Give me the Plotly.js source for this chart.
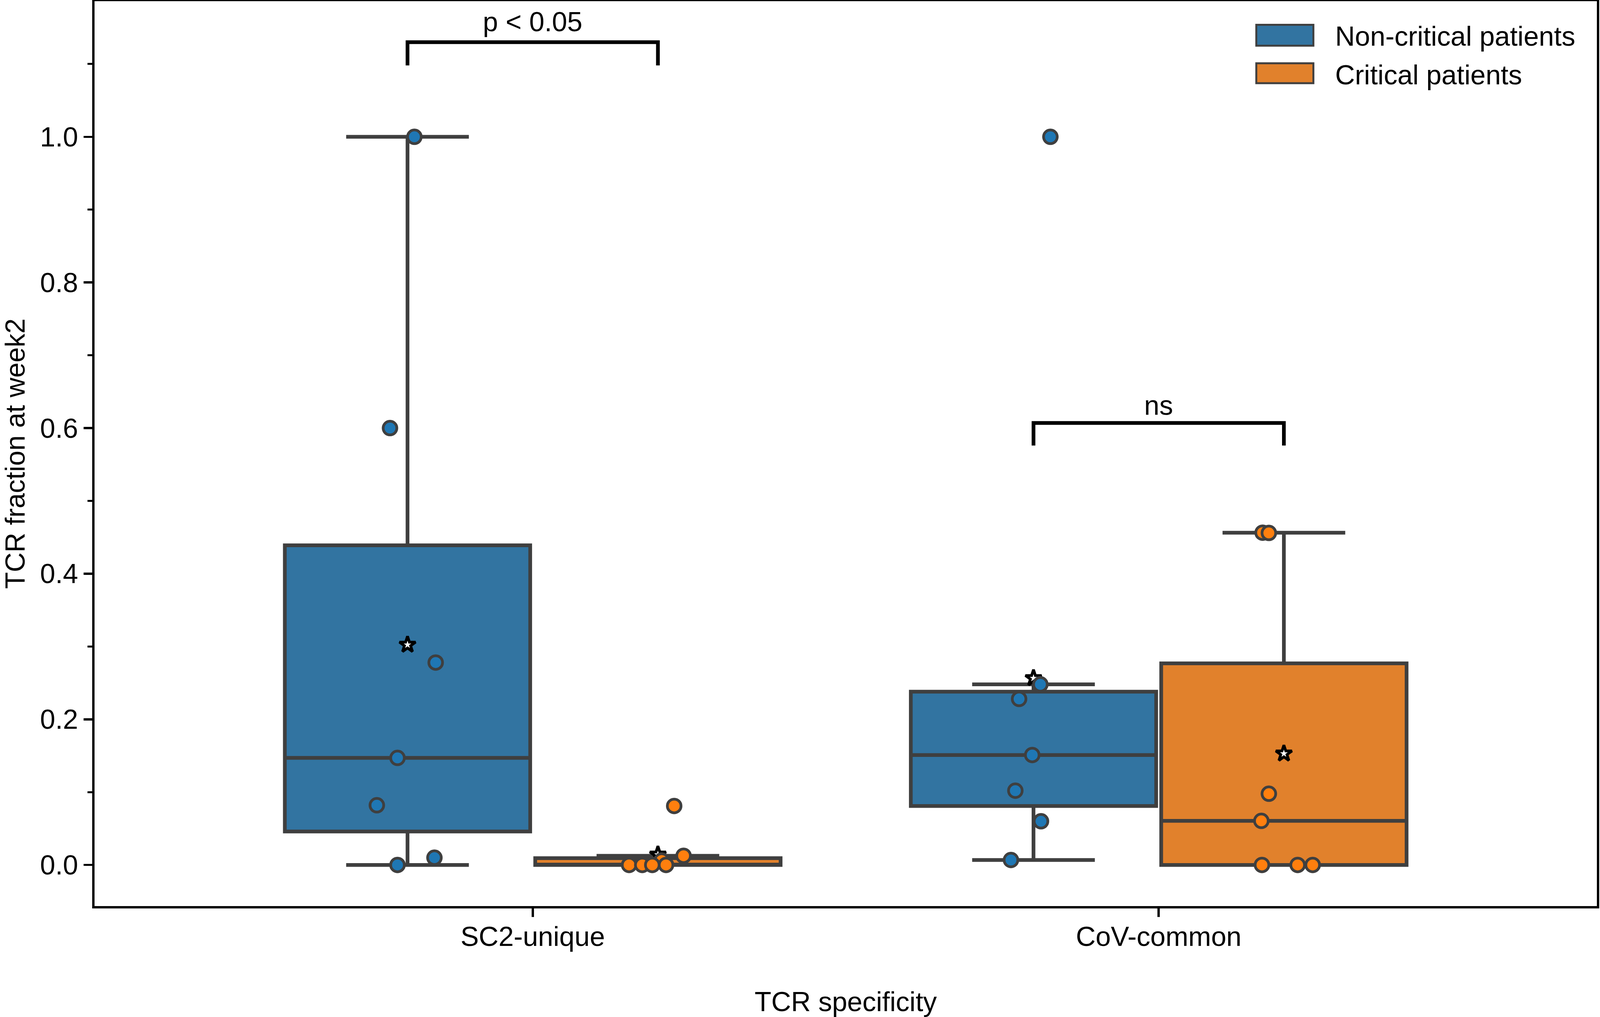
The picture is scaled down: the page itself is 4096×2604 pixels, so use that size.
<!DOCTYPE html>
<html>
<head>
<meta charset="utf-8">
<script src="https://cdn.plot.ly/plotly-3.0.1.min.js"></script>
<style>html,body{margin:0;padding:0;background:#fff;}</style>
</head>
<body>
<div id="chart" style="width:4096px;height:2604px;"></div>
<script>
// ---------------- data ----------------
const categories = ['SC2-unique', 'CoV-common'];
const groups = ['Non-critical patients', 'Critical patients'];

// TCR fraction at week2, per patient
const sc2NonCritical = [1.0, 0.600, 0.278, 0.147, 0.082, 0.010, 0.0];
const sc2Critical    = [0.081, 0.0126, 0.006, 0.0, 0.0, 0.0, 0.0];
const covNonCritical = [1.0, 0.248, 0.228, 0.151, 0.102, 0.060, 0.0068];
const covCritical    = [0.4563, 0.4560, 0.0978, 0.0605, 0.0, 0.0, 0.0];

// significance labels
const sigLabels = ['p < 0.05', 'ns'];

// ---------------- positions / styles ----------------
const hueOffset = [-0.2, 0.2];
const boxWidth = 0.392;
// horizontal strip jitter of each point (same order as the data arrays)
const jitterSc2Non  = [0.011, -0.028, 0.045, -0.016, -0.049, 0.043, -0.016];
const jitterSc2Crit = [0.026, 0.041, 0.006, -0.046, -0.025, -0.009, 0.013];
const jitterCovNon  = [0.027, 0.011, -0.023, -0.002, -0.029, 0.012, -0.036];
const jitterCovCrit = [-0.034, -0.024, -0.024, -0.036, -0.035, 0.022, 0.046];
// bracket geometry (y of legs bottom / top, text y)
const bracketY = [[1.098, 1.130, 1.158], [0.576, 0.607, 0.631]];

const boxFill = ['#3274a1', '#e1812c'];
const pointFill = ['#1f77b4', '#ff7f0e'];
const edgeGray = '#3f3f3f';
const FONT = 'Liberation Sans, Arial, Helvetica, sans-serif';
const FS = 70;

const series = [
  {cat: 0, hue: 0, vals: sc2NonCritical, jit: jitterSc2Non},
  {cat: 0, hue: 1, vals: sc2Critical, jit: jitterSc2Crit},
  {cat: 1, hue: 0, vals: covNonCritical, jit: jitterCovNon},
  {cat: 1, hue: 1, vals: covCritical, jit: jitterCovCrit},
];

function quantile(sorted, p) {
  const pos = (sorted.length - 1) * p;
  const lo = Math.floor(pos), hi = Math.ceil(pos);
  return sorted[lo] + (sorted[hi] - sorted[lo]) * (pos - lo);
}
function stats(vals) {
  const s = vals.slice().sort((a, b) => a - b);
  const q1 = quantile(s, 0.25), med = quantile(s, 0.5), q3 = quantile(s, 0.75);
  const iqr = q3 - q1;
  const lo = q1 - 1.5 * iqr, hi = q3 + 1.5 * iqr;
  const inside = s.filter(v => v >= lo && v <= hi);
  const mean = s.reduce((a, b) => a + b, 0) / s.length;
  return {q1, med, q3, lf: Math.min(inside[0], q1), uf: Math.max(inside[inside.length - 1], q3), mean};
}

const traces = [];
// boxes
series.forEach(sr => {
  const st = stats(sr.vals);
  const xpos = sr.cat + hueOffset[sr.hue];
  traces.push({
    type: 'box', x: [xpos], q1: [st.q1], median: [st.med], q3: [st.q3],
    lowerfence: [st.lf], upperfence: [st.uf],
    width: boxWidth, whiskerwidth: 0.5, boxpoints: false,
    fillcolor: boxFill[sr.hue], line: {color: edgeGray, width: 9.5},
    showlegend: false, hoverinfo: 'skip'
  });
  sr.mean = st.mean; sr.xpos = xpos;
});
// means (stars)
traces.push({
  type: 'scatter', mode: 'markers',
  x: series.map(s => s.xpos), y: series.map(s => s.mean),
  marker: {symbol: 'star', size: 31, color: 'white', line: {color: 'black', width: 7}},
  showlegend: false, hoverinfo: 'skip', cliponaxis: false
});
// strip points
[0, 1].forEach(h => {
  const xs = [], ys = [];
  series.filter(s => s.hue === h).forEach(s => {
    s.vals.forEach((v, i) => { xs.push(s.xpos + s.jit[i]); ys.push(v); });
  });
  traces.push({
    type: 'scatter', mode: 'markers', x: xs, y: ys, name: groups[h],
    marker: {size: 35, color: pointFill[h], line: {color: edgeGray, width: 7}},
    showlegend: false, hoverinfo: 'skip', cliponaxis: false
  });
});

// brackets and labels
const shapes = [];
const annotations = [];
categories.forEach((c, ci) => {
  const [yl, yt, ytxt] = bracketY[ci];
  const xa = ci + hueOffset[0], xb = ci + hueOffset[1];
  shapes.push({type: 'path', xref: 'x', yref: 'y',
    path: `M ${xa},${yl} L ${xa},${yt} L ${xb},${yt} L ${xb},${yl}`,
    line: {color: 'black', width: 9.5}});
  annotations.push({xref: 'x', yref: 'y', x: ci, y: ytxt, text: sigLabels[ci],
    showarrow: false, xanchor: 'center', yanchor: 'middle', font: {family: FONT, size: FS, color: 'black'}});
});

// legend (drawn manually)
const legX0 = 0.7733, legX1 = 0.8113, legTextX = 0.8253;
const legRows = [[0.9508, 0.9739, 0.9612], [0.9094, 0.9314, 0.9185]];
groups.forEach((g, i) => {
  const [y0, y1, yt] = legRows[i];
  shapes.push({type: 'rect', xref: 'paper', yref: 'paper', x0: legX0, x1: legX1, y0: y0, y1: y1,
    fillcolor: boxFill[i], line: {color: edgeGray, width: 5}});
  annotations.push({xref: 'paper', yref: 'paper', x: legTextX, y: yt, text: g, showarrow: false,
    xanchor: 'left', yanchor: 'middle', font: {family: FONT, size: FS, color: 'black'}});
});

const layout = {
  width: 4096, height: 2604,
  margin: {l: 241.5, r: 8, t: 3, b: 284},
  paper_bgcolor: 'white', plot_bgcolor: 'white',
  font: {family: FONT, size: FS, color: 'black'},
  showlegend: false, boxmode: 'overlay',
  xaxis: {
    range: [-0.7, 1.7], tickmode: 'array', tickvals: [0, 1], ticktext: categories,
    ticks: 'outside', ticklen: 22.5, tickwidth: 5.6, tickcolor: 'black',
    showline: true, linecolor: 'black', linewidth: 5.6, mirror: true,
    showgrid: false, zeroline: false, ticklabelstandoff: -10,
    tickfont: {family: FONT, size: FS, color: 'black'},
    title: {text: 'TCR specificity', font: {family: FONT, size: FS, color: 'black'}, standoff: 108}
  },
  yaxis: {
    range: [-0.0565, 1.1863], tick0: 0, dtick: 0.2, tickformat: '.1f',
    ticks: 'outside', ticklen: 22.5, tickwidth: 5.6, tickcolor: 'black',
    minor: {dtick: 0.1, tick0: 0, ticks: 'outside', ticklen: 12.8, tickwidth: 5, tickcolor: 'black', showgrid: false},
    showline: true, linecolor: 'black', linewidth: 5.6, mirror: true,
    showgrid: false, zeroline: false,
    tickfont: {family: FONT, size: FS, color: 'black'},
    title: {text: 'TCR fraction at week2', font: {family: FONT, size: FS, color: 'black'}, standoff: 31}
  },
  shapes: shapes,
  annotations: annotations
};

Plotly.newPlot('chart', traces, layout, {staticPlot: true, displayModeBar: false});
</script>
</body>
</html>
